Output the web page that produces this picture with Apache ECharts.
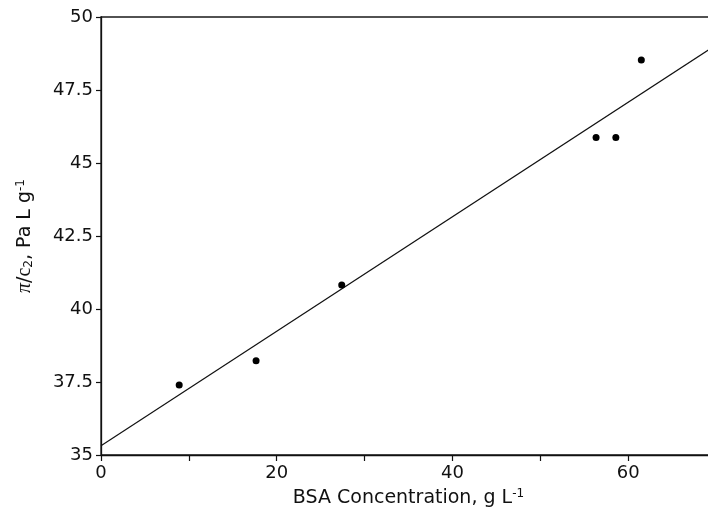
<!DOCTYPE html>
<html>
<head>
<meta charset="utf-8">
<script src="https://cdn.jsdelivr.net/npm/echarts@6/dist/echarts.min.js"></script>
<style>
  html, body { margin: 0; padding: 0; background: #fff; }
  #chart { width: 708px; height: 510px; }
</style>
</head>
<body>
<div id="chart"></div>
<script>
// Measured BSA samples: concentration (g/L) and reduced osmotic pressure π/c2 (Pa L/g)
const concentration = [8.9, 17.65, 27.4, 56.35, 58.6, 61.5];
const reducedPressure = [37.4, 38.23, 40.82, 45.87, 45.87, 48.53];

// Straight-line fit drawn across the whole axis range
const fitX = [0, 70];
const fitY = [35.32, 49.04];

const yTicks = [35, 37.5, 40, 42.5, 45, 47.5, 50];
const xLabelled = [0, 20, 40, 60];

const font = 'DejaVu Sans, Liberation Sans, sans-serif';
const serif = 'Liberation Serif, DejaVu Serif, serif';
const ink = '#111';

const chart = echarts.init(document.getElementById('chart'), null, { renderer: 'canvas' });

chart.setOption({
  animation: false,
  backgroundColor: '#fff',
  grid: {
    left: 101, top: 17, bottom: 55, right: -8,
    outerBoundsMode: 'none',
    containLabel: false,
    show: true, borderColor: '#1a1a1a', borderWidth: 1.3
  },
  xAxis: {
    type: 'value',
    min: 0, max: 70, interval: 10,
    splitLine: { show: false },
    axisLine: { lineStyle: { color: ink, width: 1.3 } },
    axisTick: { inside: false, length: 6, lineStyle: { color: ink, width: 1.2 } },
    axisLabel: {
      color: ink, fontFamily: font, fontSize: 18, margin: 9,
      formatter: v => (xLabelled.indexOf(v) >= 0 ? String(v) : '')
    },
    name: '{t|BSA Concentration, g L}{sup|-1}',
    nameLocation: 'middle',
    nameGap: 32,
    nameTextStyle: {
      rich: {
        t: { fontFamily: font, fontSize: 19, color: ink, lineHeight: 22 },
        sup: { fontFamily: font, fontSize: 12, color: ink, lineHeight: 22, padding: [0, 0, 9, 0] }
      }
    }
  },
  yAxis: {
    type: 'value',
    min: 35, max: 50, interval: 2.5,
    splitLine: { show: false },
    axisLine: { lineStyle: { color: ink, width: 1.3 } },
    axisTick: { inside: false, length: 5, lineStyle: { color: ink, width: 1.2 } },
    axisLabel: {
      color: ink, fontFamily: font, fontSize: 18, margin: 8,
      formatter: v => (yTicks.indexOf(v) >= 0 ? String(v) : '')
    },
    name: '{pi|π}{t|/}{c|c}{sub|2}{t|, Pa L g}{sup|-1}',
    nameLocation: 'middle',
    nameGap: 65,
    nameRotate: 90,
    nameTextStyle: {
      rich: {
        pi: { fontFamily: serif, fontStyle: 'italic', fontSize: 20, color: ink, lineHeight: 22 },
        c: { fontFamily: serif, fontSize: 20, color: ink, lineHeight: 22 },
        t: { fontFamily: font, fontSize: 19, color: ink, lineHeight: 22 },
        sub: { fontFamily: font, fontSize: 12, color: ink, lineHeight: 22, padding: [8, 0, 0, 0] },
        sup: { fontFamily: font, fontSize: 12, color: ink, lineHeight: 22, padding: [0, 0, 9, 0] }
      }
    }
  },
  series: [
    {
      type: 'line',
      data: fitX.map((x, i) => [x, fitY[i]]),
      showSymbol: false,
      symbol: 'none',
      lineStyle: { color: ink, width: 1.2 },
      silent: true,
      z: 2
    },
    {
      type: 'scatter',
      data: concentration.map((x, i) => [x, reducedPressure[i]]),
      symbol: 'circle',
      symbolSize: 7,
      itemStyle: { color: '#000', opacity: 1 },
      z: 3
    }
  ]
});
</script>
</body>
</html>
